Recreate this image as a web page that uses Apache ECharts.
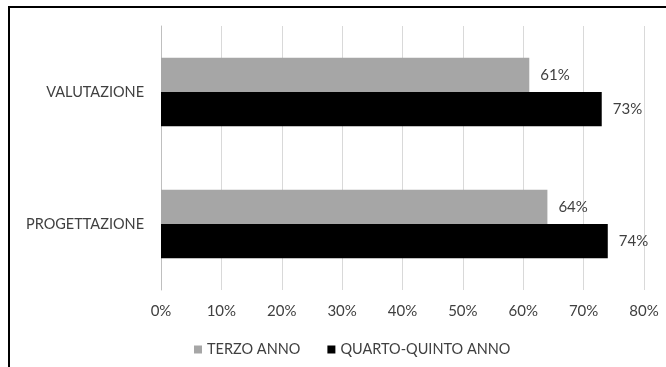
<!DOCTYPE html>
<html><head><meta charset="utf-8">
<script src="https://cdn.jsdelivr.net/npm/echarts@6/dist/echarts.min.js"></script>
<style>html,body{margin:0;padding:0;background:#fff}#c{width:666px;height:367px}</style>
</head><body><div id="c"></div>
<script>
const categories = ['VALUTAZIONE', 'PROGETTAZIONE'];
const terzoAnno = [61, 64];
const quartoQuintoAnno = [73, 74];
const seriesNames = ['TERZO ANNO', 'QUARTO-QUINTO ANNO'];
const FONT = 'Lato';
const FS = 15;
const TXT = '#404040';
const chart = echarts.init(document.getElementById('c'), null, {renderer: 'canvas'});
chart.setOption({
  animation: false,
  textStyle: {fontFamily: FONT},
  graphic: [{
    type: 'polyline',
    shape: {points: [[9, 367], [9, 7], [666, 7]]},
    style: {stroke: '#000', lineWidth: 2, fill: null}
  }],
  grid: {left: 161, right: 22, top: 26, bottom: 77},
  legend: {
    top: 337, left: 189,
    itemWidth: 8, itemHeight: 8, itemGap: 27,
    icon: 'rect',
    textStyle: {fontFamily: FONT, fontSize: 14.5, color: TXT},
    data: seriesNames
  },
  xAxis: {
    type: 'value', min: 0, max: 80, interval: 10,
    axisLabel: {formatter: '{value}%', fontFamily: FONT, fontSize: FS, color: TXT, margin: 14},
    splitLine: {lineStyle: {color: '#d9d9d9'}},
    axisLine: {show: false}, axisTick: {show: false}
  },
  yAxis: {
    type: 'category', data: categories, inverse: true,
    axisLine: {show: true, lineStyle: {color: '#bfbfbf'}},
    axisTick: {show: false},
    axisLabel: {fontFamily: FONT, fontSize: 14.5, color: TXT, margin: 17}
  },
  series: [
    {name: seriesNames[0], type: 'bar', data: terzoAnno, barGap: '0%', barCategoryGap: '48%',
     itemStyle: {color: '#a6a6a6'},
     label: {show: true, position: 'right', distance: 11, formatter: '{c}%', fontFamily: FONT, fontSize: FS, color: TXT}},
    {name: seriesNames[1], type: 'bar', data: quartoQuintoAnno, barGap: '0%', barCategoryGap: '48%',
     itemStyle: {color: '#000000'},
     label: {show: true, position: 'right', distance: 11, formatter: '{c}%', fontFamily: FONT, fontSize: FS, color: TXT}}
  ]
});
</script></body></html>
